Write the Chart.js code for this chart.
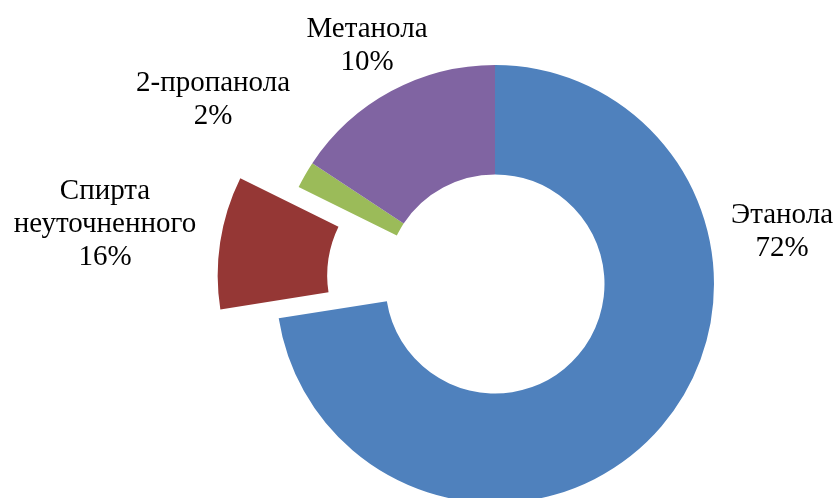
<!DOCTYPE html>
<html><head><meta charset="utf-8">
<script src="https://cdn.jsdelivr.net/npm/chart.js@4/dist/chart.umd.min.js"></script>
<style>html,body{margin:0;padding:0;background:#fff}#wrap{width:838px;height:498px}</style>
</head><body><div id="wrap"><canvas id="c" width="838" height="498"></canvas></div>
<script>
// ---- data ----
const categories = ['Этанола', 'Спирта неуточненного', '2-пропанола', 'Метанола'];
const labelLines = [['Этанола'], ['Спирта', 'неуточненного'], ['2-пропанола'], ['Метанола']];
const shareValues = [72.5, 9.8, 2.0, 15.7];
const percentLabels = ['72%', '16%', '2%', '10%'];

// ---- styles / layout ----
const colors = ['#4F81BD', '#953735', '#9BBB59', '#8064A2'];
const explode = [0, 59, 0, 0];
const labelAnchors = [[287, -52], [-390, -60], [-282, -184], [-128, -238]];
const FONT = '29px "Liberation Serif", "Times New Roman", serif';
const LINE_H = 33;

const explodePlugin = {
  id: 'explode',
  beforeDatasetDraw(chart, args) {
    const ctx = chart.ctx;
    args.meta.data.forEach((arc, i) => {
      const d = explode[i] || 0;
      const mid = (arc.startAngle + arc.endAngle) / 2;
      ctx.save();
      ctx.translate(Math.cos(mid) * d, Math.sin(mid) * d);
      arc.draw(ctx);
      ctx.restore();
    });
    return false;
  }
};

const labelPlugin = {
  id: 'outLabels',
  afterDraw(chart) {
    const ctx = chart.ctx;
    const arc0 = chart.getDatasetMeta(0).data[0];
    const cx = arc0.x, cy = arc0.y;
    ctx.save();
    ctx.font = FONT;
    ctx.fillStyle = '#000';
    ctx.textAlign = 'center';
    ctx.textBaseline = 'middle';
    labelLines.forEach((lines, i) => {
      const all = lines.concat([percentLabels[i]]);
      const [ax, ay] = labelAnchors[i];
      const top = cy + ay - (all.length - 1) * LINE_H / 2;
      all.forEach((t, k) => ctx.fillText(t, cx + ax, top + k * LINE_H));
    });
    ctx.restore();
  }
};

new Chart(document.getElementById('c'), {
  type: 'doughnut',
  data: {
    labels: categories,
    datasets: [{
      data: shareValues,
      backgroundColor: colors,
      borderWidth: 0
    }]
  },
  options: {
    responsive: false,
    devicePixelRatio: 1,
    animation: false,
    radius: 219,
    cutout: '50%',
    layout: { padding: { left: 152, right: 0, top: 70, bottom: 0 } },
    plugins: { legend: { display: false }, tooltip: { enabled: false } }
  },
  plugins: [explodePlugin, labelPlugin]
});
</script>
</body></html>
